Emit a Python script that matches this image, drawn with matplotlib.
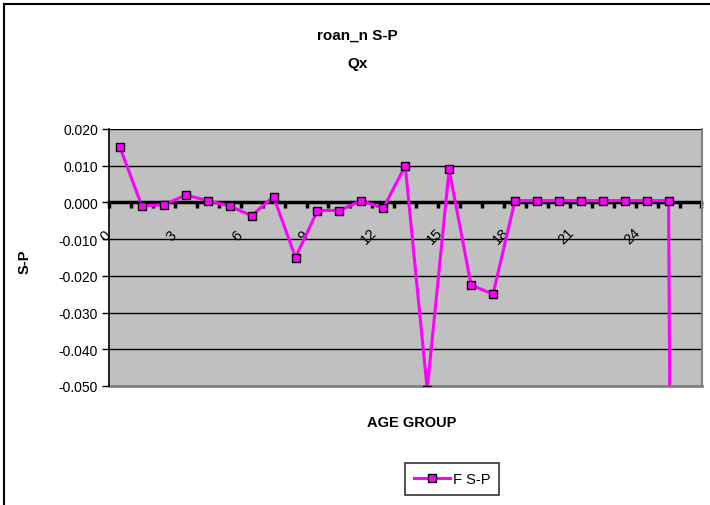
import numpy as np
import matplotlib
matplotlib.use('Agg')
import matplotlib.pyplot as plt

plt.rcParams['font.family'] = ['Liberation Sans', 'DejaVu Sans']

# age groups 0..26 and the S-P differences
age_groups = list(range(27))
f_sp = [0.015, -0.001, -0.0006, 0.002, 0.0005, -0.001, -0.0036, 0.0016,
        -0.015, -0.0022, -0.0022, 0.0005, -0.0016, 0.010, -0.051, 0.009,
        -0.0225, -0.025, 0.0005, 0.0005, 0.0005, 0.0005, 0.0005, 0.0005,
        0.0005, 0.0005, -1.0]
y_ticks = [0.020, 0.010, 0.000, -0.010, -0.020, -0.030, -0.040, -0.050]
x_label_groups = [0, 3, 6, 9, 12, 15, 18, 21, 24]

fig = plt.figure(figsize=(7.1, 5.06), dpi=100)
ax = fig.add_axes([109 / 710, 1 - 387 / 506, 592.5 / 710, 257 / 506])
ax.set_facecolor('#C0C0C0')

ax.set_xlim(-0.5, 26.5)
ax.set_ylim(-0.050, 0.020)

ax.set_yticks(y_ticks)
ax.set_yticklabels(['%.3f' % v for v in y_ticks], fontsize=10)
ax.yaxis.grid(True, color='black', linewidth=1)
ax.set_axisbelow(True)
ax.tick_params(axis='y', direction='out', length=5, width=1, pad=3)

# category axis crosses at zero, tick marks between categories
ax.spines['bottom'].set_position(('data', 0))
ax.spines['bottom'].set_linewidth(2.5)
ax.spines['bottom'].set_zorder(2)
ax.set_xticks(np.arange(-0.5, 27, 1))
ax.set_xticklabels([])
ax.tick_params(axis='x', direction='out', length=4, width=2.5)
ax.spines['left'].set_linewidth(1.2)
ax.spines['right'].set_color('#808080')
ax.spines['right'].set_linewidth(1.5)
ax.spines['top'].set_visible(False)
ax.axhline(-0.050, color='#808080', linewidth=2, clip_on=False, zorder=1)

for g in x_label_groups:
    ax.text(g - 0.65, -0.0090, str(g), rotation=45, ha='center', va='center',
            fontsize=10.5)

ax.plot(age_groups, f_sp, color='#FF00FF', linewidth=2.2, marker='s',
        markersize=5.8, markerfacecolor='#FF00FF', markeredgecolor='black',
        markeredgewidth=1, label='F S-P', zorder=3)

fig.text(0.503, 0.930, 'roan_n S-P', ha='center', va='center',
         fontsize=11, fontweight='bold')
fig.text(0.503, 0.874, 'Qx', ha='center', va='center',
         fontsize=11, fontweight='bold')
fig.text(0.035, 0.482, 'S-P', ha='center', va='center', rotation=90,
         fontsize=10.5, fontweight='bold')
fig.text(0.580, 0.164, 'AGE GROUP', ha='center', va='center',
         fontsize=10.5, fontweight='bold')

leg = fig.legend(loc='center', bbox_to_anchor=(452 / 710, 1 - 480 / 506),
                 fontsize=10.5, frameon=True, fancybox=False, handlelength=2.5,
                 borderpad=0.6, handletextpad=0.2)
leg.get_frame().set_edgecolor('black')
leg.get_frame().set_linewidth(1.2)

# outer chart border
fig.add_artist(plt.Line2D([4 / 710, 4 / 710], [0, 1 - 5 / 506], color='black',
                          linewidth=1.5))
fig.add_artist(plt.Line2D([4 / 710, 1], [1 - 5 / 506, 1 - 5 / 506],
                          color='black', linewidth=1.5))

fig.savefig('out.png', dpi=100)
